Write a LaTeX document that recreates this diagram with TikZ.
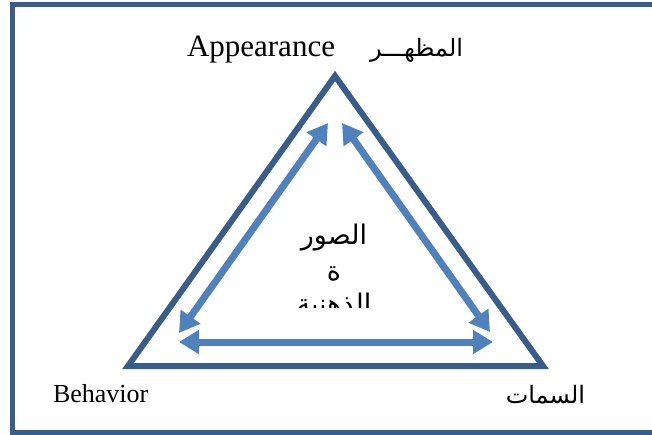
\documentclass[tikz,border=0pt]{standalone}
\usepackage{fontspec}
\setmainfont{Liberation Serif}
\newfontfamily\arabicfont[Script=Arabic]{DejaVu Sans}
\TeXXeTstate=1
\usetikzlibrary{arrows.meta}
\definecolor{darkblue}{RGB}{56,93,138}
\definecolor{lightblue}{RGB}{79,129,189}
\tikzset{
  frameline/.style={draw=darkblue, line width=5pt},
  triline/.style={draw=darkblue, line width=6pt, line join=miter},
  dblarrow/.style={draw=lightblue, line width=7pt, {Triangle[width=23pt,length=20pt]}-{Triangle[width=23pt,length=20pt]}},
  lab/.style={inner sep=0pt, outer sep=0pt},
}
\begin{document}
\begin{tikzpicture}[x=1pt,y=-1pt]
\useasboundingbox (0,0) rectangle (652,435);
\fill[white] (0,0) rectangle (652,435);
\draw[frameline] (12,4.5) rectangle (670,432);
% triangle
\coordinate (top) at (335,76);
\coordinate (bl) at (128,366);
\coordinate (br) at (543,366);
\draw[triline] (top) -- (bl) -- (br) -- cycle;
% arrows
\coordinate (la) at (179,333);
\coordinate (lb) at (328,123);
\coordinate (ra) at (342,123);
\coordinate (rb) at (490,332);
\coordinate (ha) at (179,342);
\coordinate (hb) at (493,342);
\draw[dblarrow] (la) -- (lb);
\draw[dblarrow] (ra) -- (rb);
\draw[dblarrow] (ha) -- (hb);
% labels
\node[lab, anchor=base west, font=\fontsize{31}{31}\selectfont] (app) at (187,57) {Appearance};
\node[lab, anchor=base east, font=\fontsize{24}{24}\selectfont\arabicfont] (appar) at (463,57) {\beginR المظهـــر\endR};
\node[lab, anchor=base west, font=\fontsize{26}{26}\selectfont] (beh) at (53,402) {Behavior};
\node[lab, anchor=base east, font=\fontsize{24}{24}\selectfont\arabicfont] (sim) at (585,403) {\beginR السمات\endR};
% center text (clipped text box)
\begin{scope}
\clip (260,205) rectangle (410,307);
\node[lab, anchor=base, font=\fontsize{27}{27}\selectfont\arabicfont] (c1) at (334,245) {\beginR الصور\endR};
\node[lab, anchor=base, font=\fontsize{27}{27}\selectfont\arabicfont] (c2) at (334,280) {\beginR ة\endR};
\node[lab, anchor=base, font=\fontsize{27}{27}\selectfont\arabicfont] (c3) at (334,313) {\beginR الذهنية\endR};
\end{scope}
\end{tikzpicture}
\end{document}
